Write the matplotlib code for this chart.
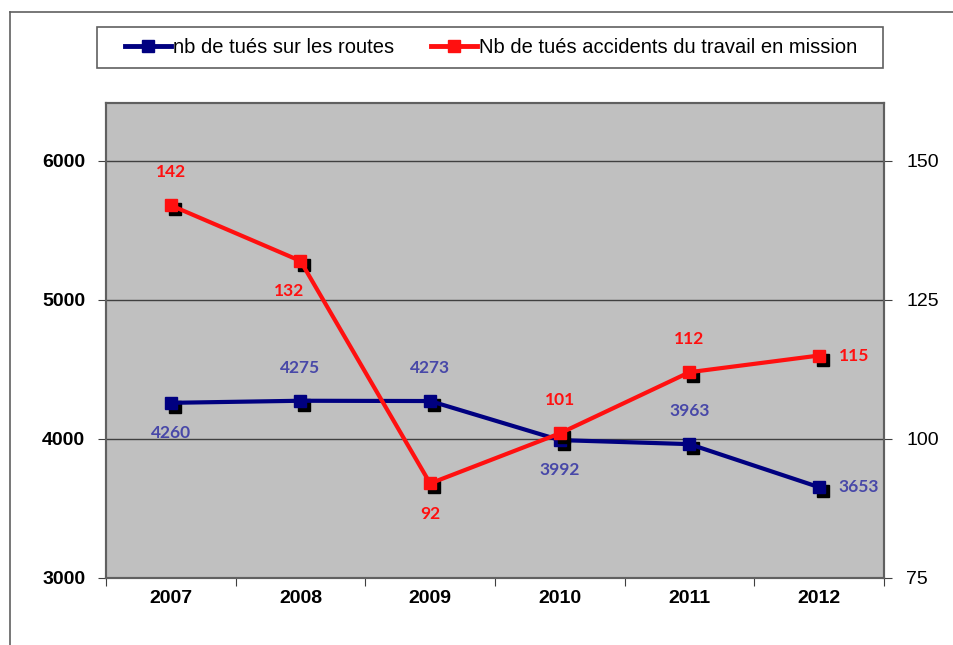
import matplotlib.pyplot as plt
import matplotlib.transforms as mtransforms
from matplotlib.lines import Line2D
from matplotlib.patches import Rectangle

years = ["2007", "2008", "2009", "2010", "2011", "2012"]
routes = [4260, 4275, 4273, 3992, 3963, 3653]
mission = [142, 132, 92, 101, 112, 115]
left_ticks = [3000, 4000, 5000, 6000]
right_ticks = [75, 100, 125, 150]

# where each data label goes (Excel-style)
routes_pos = ["below", "above", "above", "below", "above", "right"]
mission_pos = ["above", "below", "below", "above", "above", "right"]

blue = "#000080"
red = "#ff1010"
blue_lab = "#4848a8"
narrow = ["Liberation Sans Narrow", "Liberation Sans"]

fig = plt.figure(figsize=(9.54, 6.45), dpi=100)
ax = fig.add_axes([0.1111, 0.1039, 0.8155, 0.7364])
ax2 = ax.twinx()

x = list(range(len(years)))

ax.set_facecolor("#c0c0c0")
ax.set_xlim(-0.5, len(years) - 0.5)
ax.set_ylim(3000, 6417)
ax2.set_ylim(75, 160.4)
ax.grid(axis="y", color="#404040", lw=1)
ax.set_axisbelow(True)

# x ticks at boundaries, labels at centres
ax.set_xticks([i - 0.5 for i in range(len(years) + 1)], labels=[""] * (len(years) + 1))
ax.set_xticks(x, labels=years, minor=True)
ax.tick_params(axis="x", which="major", length=6, color="#404040")
ax.tick_params(axis="x", which="minor", length=0, pad=9)
ax.tick_params(axis="y", length=6, color="#404040", pad=9)
ax2.tick_params(axis="y", length=6, color="#404040", pad=10)
ax.set_yticks(left_ticks)
ax2.set_yticks(right_ticks)

for a in (ax, ax2):
    for s in a.spines.values():
        s.set_color("#606060")
        s.set_linewidth(1.5)

shadow = mtransforms.offset_copy(ax.transData, fig=fig, x=4, y=-4, units="dots")
shadow2 = mtransforms.offset_copy(ax2.transData, fig=fig, x=4, y=-4, units="dots")

ax.plot(x, routes, ls="none", marker="s", ms=8, color="black", transform=shadow, zorder=3)
ax.plot(x, routes, color=blue, lw=3, marker="s", ms=9, zorder=4)
ax2.plot(x, mission, ls="none", marker="s", ms=8, color="black", transform=shadow2, zorder=3)
ax2.plot(x, mission, color=red, lw=3, marker="s", ms=9, zorder=4)


def label(a, xs, ys, pos, color):
    for xi, yi, p in zip(xs, ys, pos):
        if p == "above":
            off, ha, va = (0, 18), "center", "bottom"
        elif p == "below":
            off, ha, va = (0, -16), "center", "top"
        else:
            off, ha, va = (14, 0), "left", "center"
        dx = -8 if (p == "below" and a is ax2 and xi == 1) else 0
        a.annotate(str(yi), (xi, yi), xytext=(off[0] + dx, off[1]), textcoords="offset points",
                   ha=ha, va=va, color=color, fontsize=12.5, fontweight="bold",
                   family="Lato", zorder=6)


label(ax, x, routes, routes_pos, blue_lab)
label(ax2, x, mission, mission_pos, red)

# legend box (Excel draws it wider than its content)
fig.add_artist(Rectangle((97 / 954, 1 - 68 / 645), 786 / 954, 41 / 645, transform=fig.transFigure,
                         facecolor="white", edgecolor="#606060", lw=1.2))
handles = [Line2D([], [], color=blue, lw=3.5, marker="s", ms=8),
           Line2D([], [], color=red, lw=3.5, marker="s", ms=8)]
leg = fig.legend(handles, ["nb de tués sur les routes", "Nb de tués accidents du travail en mission"],
                 loc="center", bbox_to_anchor=(0.5147, 0.9264), ncol=2, frameon=False,
                 handlelength=2.3, handletextpad=0.1, columnspacing=1.8,
                 prop={"family": narrow, "size": 14.5})

# outer chart frame (left and top edges visible)
fig.add_artist(Line2D([0.0105, 0.0105], [0.0, 0.982], color="#606060", lw=1.2))
fig.add_artist(Line2D([0.0105, 1.0], [0.982, 0.982], color="#606060", lw=1.2))

# tick label fonts, set once the ticks exist
fig.canvas.draw()
for lab in ax.get_yticklabels():
    lab.set_fontfamily("Liberation Sans")
    lab.set_fontweight("bold")
    lab.set_fontsize(14)
for lab in ax2.get_yticklabels():
    lab.set_fontfamily("Liberation Sans")
    lab.set_fontsize(14)
for lab in ax.get_xticklabels(minor=True):
    lab.set_fontfamily("Liberation Sans")
    lab.set_fontweight("bold")
    lab.set_fontsize(14)

fig.savefig("out.png", dpi=100)
